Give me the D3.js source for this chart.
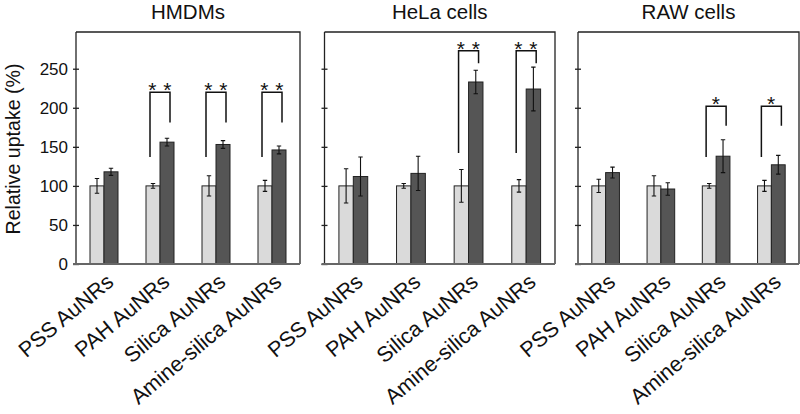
<!DOCTYPE html>
<html><head><meta charset="utf-8">
<script src="https://cdn.jsdelivr.net/npm/d3@7"></script>
<style>
html,body{margin:0;padding:0;background:#fff;}
svg text{font-family:"Liberation Sans",Arial,sans-serif;fill:#111;}
</style></head>
<body><svg id="chart" width="800" height="414"></svg>
<script>
const categories = ["PSS AuNRs","PAH AuNRs","Silica AuNRs","Amine-silica AuNRs"];
const panelTitles = ["HMDMs","HeLa cells","RAW cells"];
const seriesNames = ["control","treated"];
const yTicks = [0,50,100,150,200,250];

const hmdmControl = [100,100,100,100];
const hmdmControlErr = [9.5,3,13,7];
const hmdmTreated = [118,156,153,146];
const hmdmTreatedErr = [4.5,5,5,5];
const hmdmSig = ["","**","**","**"];

const helaControl = [100,100,100,100];
const helaControlErr = [22,3,21,8];
const helaTreated = [112,116,233,224];
const helaTreatedErr = [25,22,15,28];
const helaSig = ["","","**","**"];

const rawControl = [100,100,100,100];
const rawControlErr = [8.5,13,3,7];
const rawTreated = [117,96,138,127];
const rawTreatedErr = [7,8,21,12];
const rawSig = ["","","*","*"];

// bracket levels (in % units): top, left foot, right foot
const bracketTop = [220,273,202];
const bracketLeftFoot = [137,142,137];
const bracketRightFoot = [181,257,177];

const panelsData = [
  {title:panelTitles[0], c:hmdmControl, ce:hmdmControlErr, t:hmdmTreated, te:hmdmTreatedErr, sig:hmdmSig},
  {title:panelTitles[1], c:helaControl, ce:helaControlErr, t:helaTreated, te:helaTreatedErr, sig:helaSig},
  {title:panelTitles[2], c:rawControl, ce:rawControlErr, t:rawTreated, te:rawTreatedErr, sig:rawSig}
];

const svg = d3.select("#chart");
const panelX = [[76,300],[324.5,555],[578,799]];
const y = d3.scaleLinear().domain([0,297]).range([264,32]);
const fills = {control:"#dadada", treated:"#555555"};

panelsData.forEach((p,i)=>{
  const [x0,x1] = panelX[i];
  const x = d3.scaleBand().domain(categories).range([x0,x1]).padding(0);
  const xs = d3.scaleBand().domain(seriesNames).range([0,x.bandwidth()]).paddingInner(0).paddingOuter(1);
  const g = svg.append("g");

  // frame (top, right)
  g.append("path").attr("d",`M${x0},${y.range()[1]}H${x1}V${y.range()[0]}`)
    .attr("fill","none").attr("stroke","#222").attr("stroke-width",1.3);

  const rows = categories.map((cat,k)=>({cat,k,
    vals:[{s:"control",v:p.c[k],e:p.ce[k]},{s:"treated",v:p.t[k],e:p.te[k]}]}));

  const grp = g.selectAll(".grp").data(rows).join("g")
    .attr("transform",d=>`translate(${x(d.cat)},0)`);
  grp.selectAll("rect").data(d=>d.vals).join("rect")
    .attr("x",d=>xs(d.s)).attr("width",xs.bandwidth())
    .attr("y",d=>y(d.v)).attr("height",d=>y(0)-y(d.v))
    .attr("fill",d=>fills[d.s]).attr("stroke","#222").attr("stroke-width",1);
  // error bars
  grp.selectAll("path.err").data(d=>d.vals).join("path").attr("class","err")
    .attr("d",d=>{const cx=xs(d.s)+xs.bandwidth()/2, a=y(d.v+d.e), b=y(d.v-d.e);
      return `M${cx},${a}V${b}M${cx-2.2},${a}H${cx+2.2}M${cx-2.2},${b}H${cx+2.2}`;})
    .attr("stroke","#111").attr("stroke-width",1.1).attr("fill","none");

  // significance brackets
  rows.filter(d=>p.sig[d.k]).forEach(d=>{
    const cx = x(d.cat)+x.bandwidth()/2;
    const l = cx-10, r = cx+10;
    g.append("path").attr("d",`M${l},${y(bracketLeftFoot[i])}V${y(bracketTop[i])}H${r}V${y(bracketRightFoot[i])}`)
      .attr("fill","none").attr("stroke","#111").attr("stroke-width",1.5);
    g.append("text").attr("x",cx).attr("y",y(bracketTop[i])+5)
      .attr("text-anchor","middle").attr("font-size",21).attr("letter-spacing",0.5)
      .text(p.sig[d.k].split("").join(" "));
  });

  // y axis
  const ax = g.append("g").attr("transform",`translate(${x0},0)`)
    .call(d3.axisLeft(y).tickValues(yTicks).tickSize(3).tickFormat(i===0?d3.format("d"):""));
  ax.select(".domain").remove();
  ax.selectAll(".tick line").attr("x1",-3).attr("x2",3).attr("stroke","#222").attr("stroke-width",1.3);
  g.append("line").attr("x1",x0).attr("x2",x0).attr("y1",y.range()[1]).attr("y2",y.range()[0])
    .attr("stroke","#222").attr("stroke-width",1.3);
  if(i===0){
    ax.selectAll(".tick text").attr("x",-8).attr("font-size",17).attr("fill","#111");
  } else {
    ax.selectAll(".tick text").remove();
  }
  // bottom axis
  g.append("line").attr("x1",x0-3).attr("x2",x1).attr("y1",y(0)).attr("y2",y(0))
    .attr("stroke","#666").attr("stroke-width",2);

  // category labels
  g.selectAll(".cl").data(categories).join("text").attr("class","cl")
    .attr("transform",c=>`translate(${x(c)+x.bandwidth()/2+11},${y(0)+20}) rotate(-40)`)
    .attr("text-anchor","end").attr("font-size",21.5).text(c=>c);

  // title
  g.append("text").attr("x",(x0+x1)/2).attr("y",18.5).attr("text-anchor","middle")
    .attr("font-size",20.5).text(p.title);
});

svg.append("text").attr("transform","translate(20,149) rotate(-90)")
  .attr("text-anchor","middle").attr("font-size",19.6).text("Relative uptake (%)");
</script></body></html>
